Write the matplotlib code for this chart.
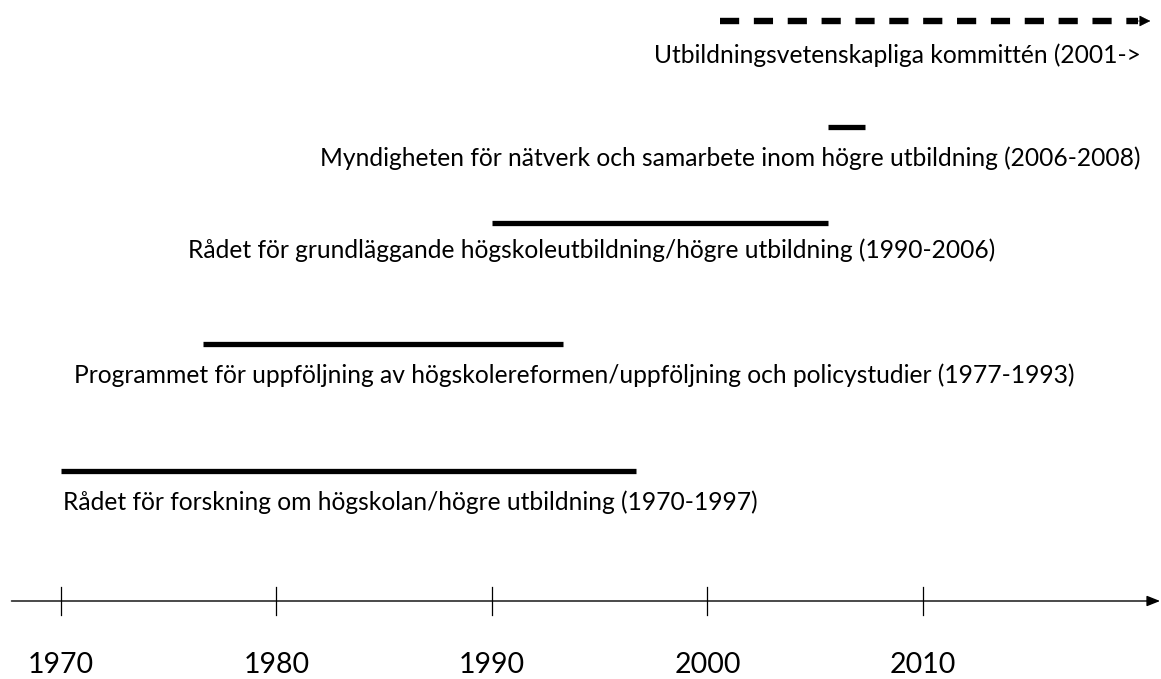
import matplotlib.pyplot as plt

# periods (start year, end year)
labels = [
    "Rådet för forskning om högskolan/högre utbildning (1970-1997)",
    "Programmet för uppföljning av högskolereformen/uppföljning och policystudier (1977-1993)",
    "Rådet för grundläggande högskoleutbildning/högre utbildning (1990-2006)",
    "Myndigheten för nätverk och samarbete inom högre utbildning (2006-2008)",
    "Utbildningsvetenskapliga kommittén (2001->",
]
starts = [1970.0, 1976.6, 1990.0, 2005.6, 2000.6]
ends = [1996.7, 1993.3, 2005.6, 2007.3, 2020.0]
tick_years = [1970, 1980, 1990, 2000, 2010]

# layout (pixel rows, top = 0)
bar_y = [471, 344, 223, 127, 21]
label_x = [1970.1, 1970.6, 1975.9, 1982.0, 2020.1]
label_y = [502, 375, 250, 158, 55]

W, H = 1161, 679
x0, px_per_year = 61, 21.55
fam = ["Lato", "DejaVu Sans"]

fig = plt.figure(figsize=(W / 100, H / 100), dpi=100)
ax = fig.add_axes([0, 0, 1, 1])
ax.set_xlim(1970 - x0 / px_per_year, 1970 + (W - x0) / px_per_year)
ax.set_ylim(H, 0)
ax.axis("off")

for i in range(4):
    ax.plot([starts[i], ends[i]], [bar_y[i], bar_y[i]], color="black", lw=3.8,
            solid_capstyle="butt")
    ax.text(label_x[i], label_y[i], labels[i], fontsize=17.7, ha="left", va="center",
            family=fam)

# dashed open-ended period
ax.plot([starts[4], ends[4]], [bar_y[4], bar_y[4]], color="black", lw=4.6,
        dashes=(3.0, 2.3), dash_capstyle="butt")
ax.annotate("", xy=(ends[4] + 0.55, bar_y[4]), xytext=(ends[4] - 0.1, bar_y[4]),
            arrowprops=dict(arrowstyle="-|>,head_length=0.7,head_width=0.35",
                            color="black", lw=0.5, shrinkA=0, shrinkB=0))
ax.text(label_x[4], label_y[4], labels[4], fontsize=17.7, ha="right", va="center",
        family=fam)

# time axis
axis_y = 601
ax.annotate("", xy=(2021.0, axis_y), xytext=(1967.7, axis_y),
            arrowprops=dict(arrowstyle="-|>,head_length=0.8,head_width=0.32",
                            color="black", lw=1.0, shrinkA=0, shrinkB=0))
for yr in tick_years:
    ax.plot([yr, yr], [587, 615], color="black", lw=0.9)
    ax.text(yr, 665, str(yr), fontsize=20.5, ha="center", va="center", family=fam)

fig.savefig("out.png", dpi=100)
